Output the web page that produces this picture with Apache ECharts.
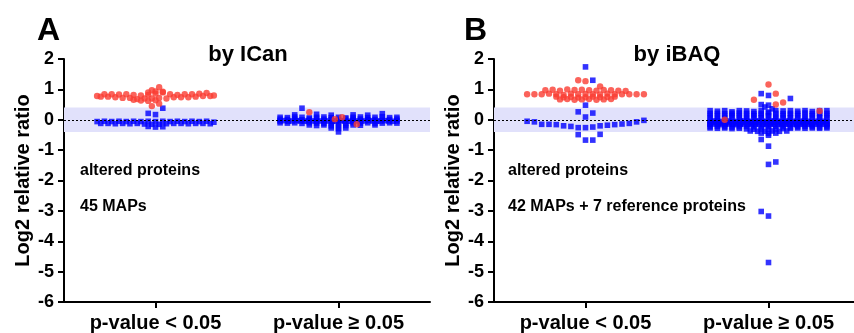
<!DOCTYPE html>
<html><head><meta charset="utf-8">
<script src="https://cdn.jsdelivr.net/npm/echarts@6/dist/echarts.min.js"></script>
<style>html,body{margin:0;padding:0;background:#fff}#c{width:854px;height:333px}</style>
</head><body><div id="c"></div>
<script>
// ---- data ----
const categories = ['p-value < 0.05', 'p-value \u2265 0.05'];
const yMin = -6, yMax = 2, yStep = 1;
const bandLow = -0.4, bandHigh = 0.4;
const panelLetters = ['A', 'B'];
const panelTitles = ['by ICan', 'by iBAQ'];
const noteLine1 = ['altered proteins', 'altered proteins'];
const noteLine2 = ['45 MAPs', '42 MAPs + 7 reference proteins'];
const yName = 'Log2 relative ratio';

// Each inner array is one horizontal row of the dot plot (null = empty slot)
const icanSigRed = [
  [0.97, 1.07],
  [0.9, 0.93, 0.9],
  [0.78, 0.84, 0.84, 0.83, 0.84, 0.82, 0.8, 0.82, 0.86, 0.92, 0.84, 0.82, 0.84, 0.84, 0.86, 0.88, 0.8],
  [0.76, 0.76, 0.74, 0.72, 0.72, 0.68, 0.7, 0.7, 0.72, 0.7, 0.74, 0.74, 0.74, 0.76, 0.78, 0.78],
  [0.66, 0.63, 0.62, 0.64, null, null, null],
  [0.45, 0.53]
];
const icanSigBlue = [
  [null, null, 0.38],
  [0.21, 0.17, null],
  [-0.06, -0.05, -0.06, -0.05, -0.06, -0.05, -0.06, -0.05, -0.06, -0.05, -0.06, -0.05, -0.06, -0.05, -0.06, -0.05, -0.08],
  [-0.12, -0.12, -0.13, -0.12, -0.13, -0.12, -0.14, -0.15, -0.15, -0.13, -0.12, -0.12, -0.13, -0.12, -0.12, -0.13],
  [-0.22, -0.24, -0.23]
];
const icanNsRed = [
  [0.25, null, null, null, null, null, null, null, null],
  [0.02, 0.08],
  [null, null, null, null, null, -0.15]
];
const icanNsBlue = [
  [0.38, null, null, null, null, null, null, null, null, null, null],
  [null, null, 0.16, null, null, 0.18, null, 0.15, null, null, 0.16, null, 0.15, null, 0.2, null, null],
  [0.08, 0.07, 0.09, 0.08, 0.06, 0.08, 0.09, 0.07, 0.08, 0.06, 0.08, 0.09, 0.07, 0.08, 0.1, 0.07, 0.08],
  [0.02, 0.01, 0.02, 0.0, 0.02, 0.01, 0.02, 0.0, 0.01, 0.02, 0.01, 0.02, 0.0, 0.01, 0.02, 0.01, 0.02],
  [-0.04, -0.03, -0.05, -0.04, -0.03, -0.04, -0.05, -0.03, -0.04, -0.05, -0.04, -0.03, -0.04, -0.05, -0.04, -0.03, -0.04, -0.05, -0.03, -0.04, -0.05, -0.04, -0.03, -0.04, -0.05, -0.04, -0.03, -0.04, -0.05, -0.04],
  [-0.1, -0.11, -0.1, -0.12, -0.1, -0.11, -0.12, -0.1, -0.11, -0.12, -0.1, -0.11, -0.1, -0.12, -0.11, -0.1, -0.11],
  [null, null, null, null, -0.17, -0.19, -0.17, -0.2, -0.21, -0.19, -0.17, -0.18, null, -0.17, null, null, null],
  [-0.27, -0.29, -0.27],
  [-0.4]
];
const ibaqSigRed = [
  [1.3, 1.27, null],
  [null, null, null, null, 1.1],
  [0.97, 0.99, 0.96, 1.0, 0.98, 0.99, 0.97, 0.96, 0.98, 0.97, 0.96, 0.95],
  [0.84, 0.84, 0.84, 0.86, 0.84, 0.82, 0.86, 0.84, 0.85, 0.84, 0.83, 0.86, 0.84, 0.84, 0.84, 0.84, 0.84],
  [0.76, 0.74, 0.75, 0.73, 0.74, 0.76, 0.74, 0.75, 0.76],
  [0.67, 0.68, 0.66, 0.67, 0.68, 0.66, 0.67, 0.68]
];
const ibaqSigBlue = [
  [1.74],
  [null, null, 1.3],
  [0.48],
  [0.26, null, 0.22],
  [0.09],
  [-0.05, -0.07, -0.15, -0.15, -0.16, -0.2, -0.22, -0.26, -0.26, -0.24, -0.2, -0.18, -0.16, -0.14, -0.12, -0.07, -0.02],
  [null, -0.49, null, null, -0.48],
  [null, -0.67, -0.67]
];
const ibaqNsRed = [
  [1.16],
  [null, null, 0.86],
  [0.66, null, null, null, null],
  [null, null, null, 0.5, 0.57],
  [0.0, null, null, null, null, null, null, null, null, null, null, null, null],
  [null, null, null, null, null, null, null, null, null, null, null, null, null, null, 0.29]
];
const ibaqNsBlue = [
  [0.86, 0.8, null],
  [null, null, null, null, null, null, 0.7],
  [0.5, 0.48, null],
  [0.42, 0.36],
  [0.3, 0.28, 0.3, 0.26, 0.3, 0.29, 0.27, 0.3, 0.25, 0.3, 0.29, 0.3, 0.28, 0.3, 0.27, 0.3, 0.3],
  [0.21, 0.21, 0.2, 0.21, 0.22, 0.21, 0.2, 0.21, 0.22, 0.21, 0.2, 0.21, 0.21, 0.22, 0.2, 0.21, 0.21],
  [0.13, 0.12, 0.13, 0.14, 0.13, 0.12, 0.13, 0.14, 0.13, 0.12, 0.13, 0.14, 0.13, 0.12, 0.13, 0.14, 0.13],
  [0.05, 0.04, 0.05, 0.06, 0.05, 0.04, 0.05, 0.06, 0.05, 0.04, 0.05, 0.06, 0.05, 0.04, 0.05, 0.06, 0.05],
  [-0.05, -0.04, -0.05, -0.06, -0.05, -0.04, -0.05, -0.06, -0.05, -0.04, -0.05, -0.06, -0.05, -0.04, -0.05, -0.06, -0.05, -0.04, -0.05, -0.06, -0.05, -0.04, -0.05, -0.06, -0.05, -0.04, -0.05, -0.06, -0.05, -0.04, -0.05, -0.06],
  [-0.1, -0.09, -0.1, -0.11, -0.1, -0.09, -0.1, -0.11, -0.1, -0.09, -0.1, -0.11, -0.1, -0.09, -0.1, -0.11, -0.1, -0.09, -0.1, -0.11, -0.1, -0.09, -0.1, -0.11, -0.1, -0.09, -0.1, -0.11, -0.1, -0.09, -0.1, -0.11],
  [-0.15, -0.14, -0.15, -0.16, -0.15, -0.14, -0.15, -0.16, -0.15, -0.14, -0.15, -0.16, -0.15, -0.14, -0.15, -0.16, -0.15, -0.14, -0.15, -0.16, -0.15, -0.14, -0.15, -0.16, -0.15, -0.14, -0.15, -0.16, -0.15, -0.14, -0.15, -0.16],
  [-0.23, -0.22, -0.23, -0.24, -0.23, -0.22, -0.23, -0.24, -0.23, -0.22, -0.23, -0.24, -0.23, -0.22, -0.23, -0.24, -0.23],
  [-0.27, -0.28, -0.27, -0.29, -0.28, -0.3, -0.31, -0.3, -0.31, -0.3, -0.29, -0.28, -0.27, -0.28, -0.27, -0.28, -0.27],
  [-0.37, -0.38, -0.38, -0.37, -0.38, -0.37],
  [-0.44, -0.45, -0.44],
  [-0.65, -0.51, null],
  [-0.87],
  [null, -1.47, -1.39],
  [-3.02, -3.17, null],
  [-4.7]
];

// ---- layout ----
const FONT = '"Liberation Sans", Arial, Helvetica, sans-serif';
const GRID_W = 366;
const PX_UNIT = GRID_W / 2;   // px per category step
const PITCH = 7.3;            // horizontal dot pitch in px
const MAX_W = 117;            // max row width in px

function swarm(rows, cat) {
  const out = [];
  rows.forEach(row => {
    const n = row.length;
    const p = n > 1 ? Math.min(PITCH, MAX_W / (n - 1)) : 0;
    row.forEach((v, i) => {
      if (v !== null) out.push([cat + (i - (n - 1) / 2) * p / PX_UNIT, v]);
    });
  });
  return out;
}

const RED = '#fa3c32', BLUE = '#0000ff';
const grids = [
  {left: 64, width: GRID_W, top: 59, bottom: 31},
  {left: 494, width: GRID_W, top: 59, bottom: 31}
];
const panels = [
  {red: [icanSigRed, icanNsRed], blue: [icanSigBlue, icanNsBlue]},
  {red: [ibaqSigRed, ibaqNsRed], blue: [ibaqSigBlue, ibaqNsBlue]}
];

const xAxes = [], yAxes = [], series = [];
grids.forEach((g, gi) => {
  xAxes.push({
    type: 'category', gridIndex: gi, data: categories, position: 'bottom',
    axisLine: {show: true, onZero: false, lineStyle: {color: '#000', width: 2}},
    axisTick: {show: true, alignWithLabel: true, length: 6, lineStyle: {color: '#000', width: 2}},
    axisLabel: {color: '#000', fontFamily: FONT, fontWeight: 'bold', fontSize: 20, margin: 11},
    splitLine: {show: false}
  });
  xAxes.push({type: 'value', gridIndex: gi, min: -0.5, max: 1.5, show: false,
    axisLine: {onZero: false}, splitLine: {show: false}});
  yAxes.push({
    type: 'value', gridIndex: gi, min: yMin, max: yMax, interval: yStep, position: 'left',
    name: yName, nameLocation: 'middle', nameGap: 31, nameRotate: 90,
    nameTextStyle: {color: '#000', fontFamily: FONT, fontWeight: 'bold', fontSize: 20},
    axisLine: {show: true, onZero: false, lineStyle: {color: '#000', width: 2}},
    axisTick: {show: true, length: 6, lineStyle: {color: '#000', width: 2}},
    axisLabel: {color: '#000', fontFamily: FONT, fontWeight: 'bold', fontSize: 18, margin: 10},
    splitLine: {show: false}
  });
  const xi = gi * 2 + 1;
  series.push({
    type: 'line', xAxisIndex: xi, yAxisIndex: gi, data: [[0, 0]], showSymbol: false, silent: true,
    lineStyle: {opacity: 0}, z: 1,
    markArea: {silent: true, itemStyle: {color: '#e1e1fb'}, data: [[{yAxis: bandLow}, {yAxis: bandHigh}]]},
    markLine: {silent: true, symbol: 'none', label: {show: false},
      lineStyle: {color: '#000', type: [2, 2], width: 1}, data: [{yAxis: 0}]}
  });
  const p = panels[gi];
  series.push({
    type: 'scatter', xAxisIndex: xi, yAxisIndex: gi, symbol: 'rect', symbolSize: 5.6, z: 4,
    itemStyle: {color: BLUE}, silent: true,
    data: swarm(p.blue[0], 0).concat(swarm(p.blue[1], 1))
  });
  series.push({
    type: 'scatter', xAxisIndex: xi, yAxisIndex: gi, symbol: 'circle', symbolSize: 6.4, z: 5,
    itemStyle: {color: RED}, silent: true,
    data: swarm(p.red[0], 0).concat(swarm(p.red[1], 1))
  });
});

const txt = (text, x, y, size, align) => ({
  type: 'text', x, y, silent: true,
  style: {text, fill: '#000', font: 'bold ' + size + 'px ' + FONT, textAlign: align || 'left', textVerticalAlign: 'middle'}
});
const graphics = [
  txt(panelLetters[0], 37, 31, 32), txt(panelLetters[1], 464, 31, 32),
  txt(panelTitles[0], 248, 55, 22, 'center'), txt(panelTitles[1], 677, 55, 22, 'center'),
  txt(noteLine1[0], 80, 171, 16), txt(noteLine2[0], 80, 207, 16),
  txt(noteLine1[1], 508, 171, 16), txt(noteLine2[1], 508, 207, 16)
];

const chart = echarts.init(document.getElementById('c'), null, {renderer: 'canvas'});
chart.setOption({
  animation: false,
  backgroundColor: '#fff',
  grid: grids.map(g => Object.assign({containLabel: false, outerBoundsMode: 'none'}, g)),
  xAxis: xAxes, yAxis: yAxes, series, graphic: graphics
});
</script></body></html>
